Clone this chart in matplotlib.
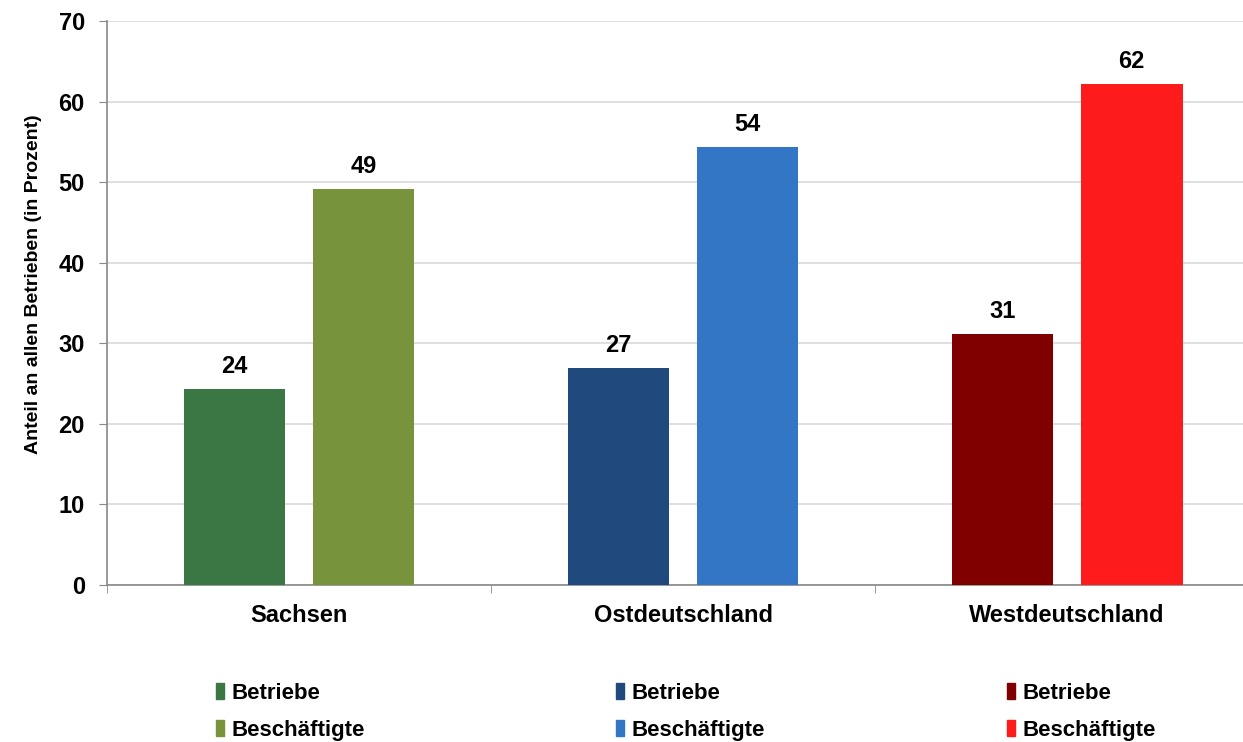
import numpy as np
import matplotlib
matplotlib.use('Agg')
import matplotlib.pyplot as plt
from matplotlib.patches import Patch

plt.rcParams['font.family'] = ['Liberation Sans', 'DejaVu Sans']
plt.rcParams['font.weight'] = 'bold'

# data
regions = ['Sachsen', 'Ostdeutschland', 'Westdeutschland']
betriebe = [24.3, 26.9, 31.1]
beschaeftigte = [49.1, 54.3, 62.2]
value_labels_b = ['24', '27', '31']
value_labels_e = ['49', '54', '62']
series_names = ['Betriebe', 'Beschäftigte']
colors_betriebe = ['#3b7645', '#204a7e', '#800000']
colors_besch = ['#77933c', '#3376c6', '#fe1b1b']
y_ticks = [0, 10, 20, 30, 40, 50, 60, 70]

fig = plt.figure(figsize=(12.43, 7.42), dpi=100)
ax = fig.add_axes([107 / 1243, 1 - 585 / 742, 1 - 107 / 1243, (585 - 21) / 742])

x = np.arange(len(regions))
w = 0.265
off = 0.168
bars_b = ax.bar(x - off, betriebe, width=w, color=colors_betriebe, zorder=3)
bars_e = ax.bar(x + off, beschaeftigte, width=w, color=colors_besch, zorder=3)

# value labels above the bars
for bars, labels in [(bars_b, value_labels_b), (bars_e, value_labels_e)]:
    for rect, lab in zip(bars, labels):
        ax.annotate(lab, xy=(rect.get_x() + rect.get_width() / 2, rect.get_height()),
                    xytext=(0, 11), textcoords='offset pixels',
                    ha='center', va='bottom', fontsize=17, fontweight='bold')

ax.set_ylim(0, 70)
ax.set_xlim(-0.5, 2.458)
ax.set_yticks(y_ticks)
ax.set_yticklabels([str(t) for t in y_ticks], fontsize=17, fontweight='bold')
ax.set_xticks(x)
ax.set_xticklabels(regions, fontsize=17, fontweight='bold')
ax.set_xticks([-0.5, 0.5, 1.5], minor=True)
ax.tick_params(axis='x', which='major', length=0, pad=13.5)
ax.tick_params(axis='x', which='minor', length=6, color='#888888', direction='out')
ax.tick_params(axis='y', length=6, color='#888888', pad=10)
ax.set_ylabel('Anteil an allen Betrieben (in Prozent)', fontsize=14, fontweight='bold')
ax.yaxis.set_label_coords(-0.057, 0.534)

ax.grid(axis='y', color='#d9d9d9', linewidth=1.2, zorder=0)
ax.set_axisbelow(True)
for s in ['top', 'right']:
    ax.spines[s].set_visible(False)
for s in ['left', 'bottom']:
    ax.spines[s].set_color('#888888')
    ax.spines[s].set_linewidth(1.2)

# legends, one column per region
leg_x = [216, 616, 1007]
for i in range(len(regions)):
    handles = [Patch(color=colors_betriebe[i]), Patch(color=colors_besch[i])]
    fig.legend(handles, series_names, loc='upper left',
               bbox_to_anchor=(leg_x[i] / 1243, 1 - 683 / 742),
               frameon=False, prop={'weight': 'bold', 'size': 16},
               handlelength=0.35, handleheight=0.75,
               handletextpad=0.35, labelspacing=0.7, borderpad=0, borderaxespad=0)

fig.savefig('out.png', dpi=100)
